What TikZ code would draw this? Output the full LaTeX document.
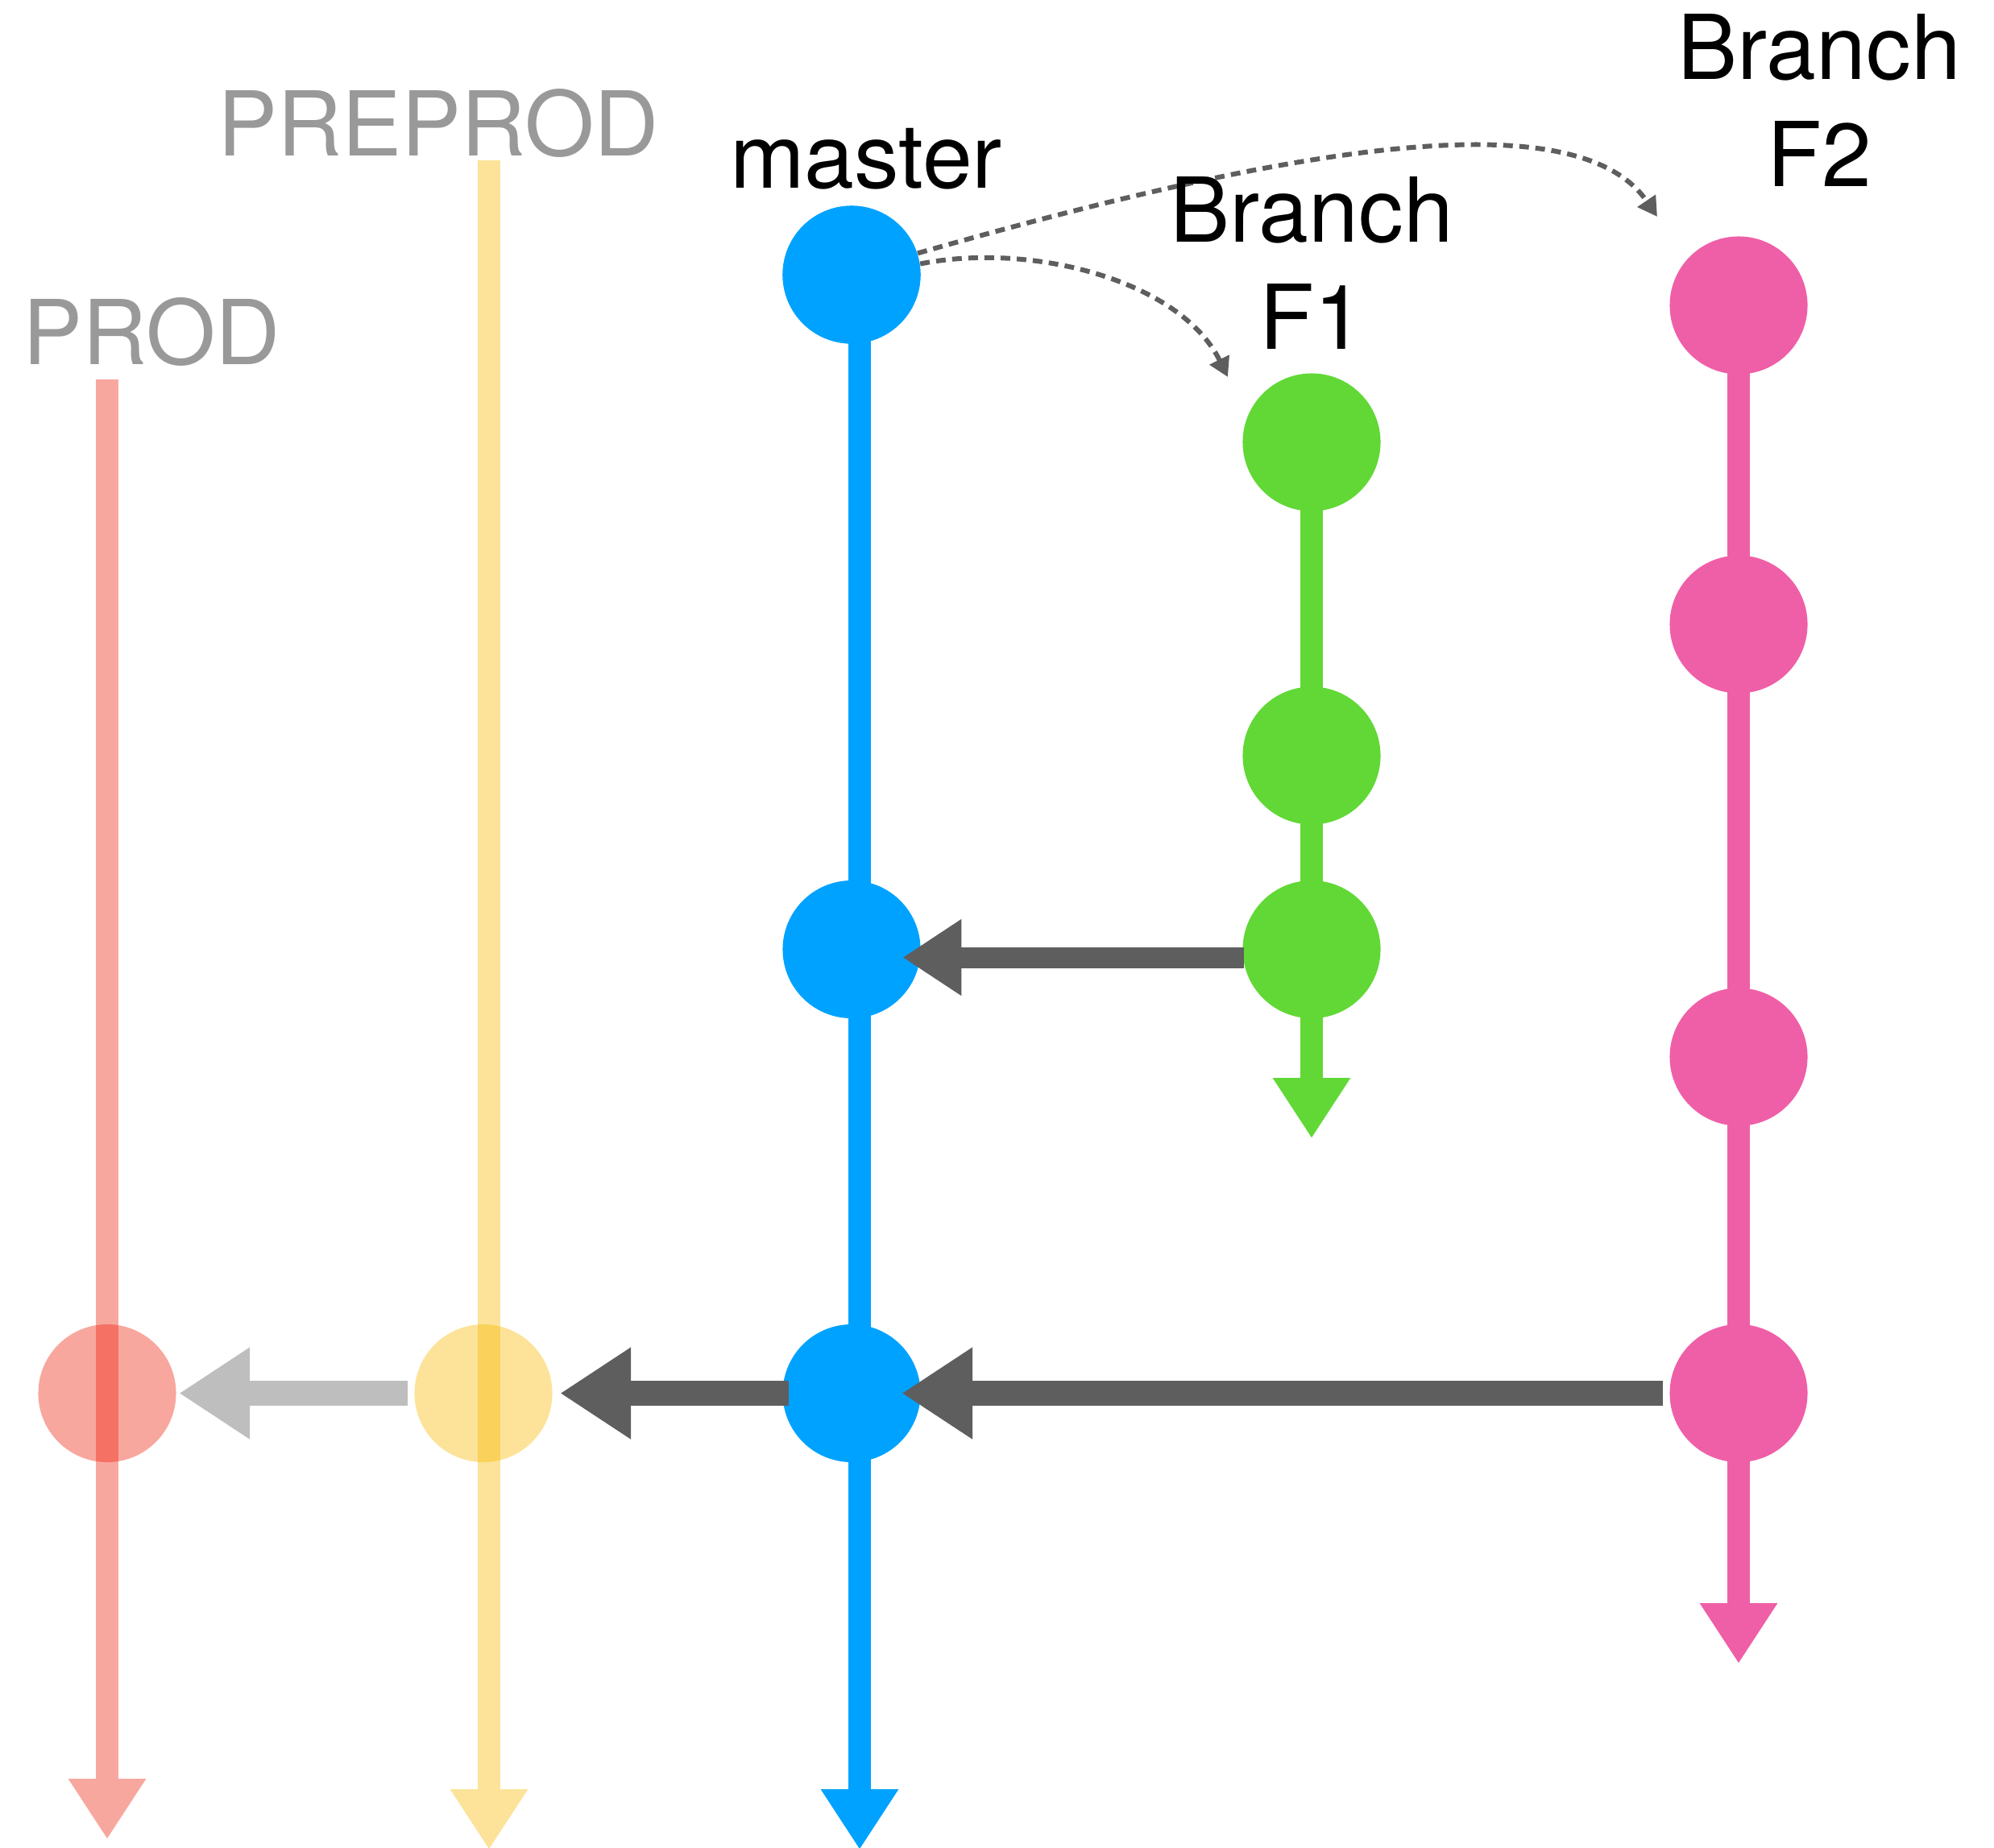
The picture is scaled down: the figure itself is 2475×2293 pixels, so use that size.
\documentclass[tikz,border=0pt]{standalone}
\usepackage{fontspec}
\setmainfont{TeX Gyre Heros}
\usetikzlibrary{arrows.meta}

\definecolor{masterblue}{HTML}{00A2FF}
\definecolor{featgreen}{HTML}{61D836}
\definecolor{featpink}{HTML}{EF5FA7}
\definecolor{prodred}{HTML}{EE220C}
\definecolor{prodline}{HTML}{F8A79E}
\definecolor{preyellow}{HTML}{F8BA00}
\definecolor{preline}{HTML}{FCE399}
\definecolor{mergegray}{HTML}{5E5E5E}
\definecolor{promogray}{HTML}{BEBEBE}
\definecolor{envgray}{HTML}{999999}

\begin{document}
\begin{tikzpicture}[x=0.01cm, y=-0.01cm,
  commit/.style={circle, inner sep=0pt, minimum size=1.71cm, fill=#1},
  ghost/.style={circle, inner sep=0pt, minimum size=1.71cm, fill=#1, fill opacity=0.4},
  lane/.style={draw=#1, line width=7.7pt, -{Triangle[length=21.3pt, width=25.9pt]}},
  merge/.style={draw=#1, line width=8.8pt, -{Triangle[length=25pt, width=30.7pt]}},
  smallmerge/.style={draw=mergegray, line width=7.4pt, -{Triangle[length=20.8pt, width=25.6pt]}},
  fork/.style={draw=mergegray, line width=1.7pt, dash pattern=on 3.4pt off 2.3pt,
    -{Triangle[length=6.8pt, width=7.4pt]}},
  tag/.style={inner sep=0pt, font=\fontsize{31.6pt}{37.8pt}\selectfont}
]
\useasboundingbox (0,0) rectangle (2475,2293);

% free ends of the branch lanes
\coordinate (prodTop) at (133,471);
\coordinate (prodEnd) at (133,2283);
\coordinate (preTop) at (607,199);
\coordinate (preEnd) at (607,2296);
\coordinate (mEnd) at (1067,2296);
\coordinate (f1End) at (1628,1413);
\coordinate (f2End) at (2158,2065);

% environment lanes with their translucent commits
\draw[lane=prodline] (prodTop) -- (prodEnd);
\draw[lane=preline] (preTop) -- (preEnd);
\node[ghost=prodred] (p1) at (133,1729.5) {};
\node[ghost=preyellow] (pp1) at (600,1729.5) {};

% master and feature lanes, commits on top
\node[commit=masterblue] (m1) at (1057,341) {};
\draw[lane=masterblue] (m1.center -| mEnd) -- (mEnd);
\draw[lane=featgreen] (1628,549) -- (f1End);
\draw[lane=featpink] (2158,379) -- (f2End);

\node[commit=masterblue] at (m1) {};
\node[commit=masterblue] (m2) at (1057,1178.5) {};
\node[commit=masterblue] (m3) at (1057,1729.5) {};

\node[commit=featgreen] (f1) at (1628,549) {};
\node[commit=featgreen] (f2) at (1628,938) {};
\node[commit=featgreen] (f3) at (1628,1178.5) {};

\node[commit=featpink] (g1) at (2158,379) {};
\node[commit=featpink] (g2) at (2158,775) {};
\node[commit=featpink] (g3) at (2158,1312) {};
\node[commit=featpink] (g4) at (2158,1729.5) {};

% merges and promotions
\draw[smallmerge] ([shift={(2,10)}]f3.west) -- ([shift={(-23,10)}]m2.east);
\draw[merge=mergegray] ([shift={(-8,0)}]g4.west) -- ([shift={(-24,0)}]m3.east);
\draw[merge=mergegray] ([shift={(8,0)}]m3.west) -- ([shift={(9,0)}]pp1.east);
\draw[merge=promogray] ([shift={(-8,0)}]pp1.west) -- ([shift={(3,0)}]p1.east);

% branch creation
\coordinate (f1tip) at (1524,468);
\coordinate (f2tip) at (2057,269);
\draw[fork] (m1.9) .. controls (1280,300) and (1465,348) .. (f1tip);
\draw[fork] (m1.18) .. controls (1588,186) and (1956,120) .. (f2tip);

% labels
\node[tag, text=envgray, anchor=base] (prodLabel) at (188,452) {PROD};
\node[tag, text=envgray, anchor=base] (preLabel) at (544,193) {PREPROD};
\node[tag, anchor=base] (masterLabel) at (1075,233) {master};
\node[tag, anchor=base, align=center] (f1Label) at (1628,433) {Branch\\F1};
\node[tag, anchor=base, align=center] (f2Label) at (2258,231) {Branch\\F2};
\end{tikzpicture}
\end{document}
